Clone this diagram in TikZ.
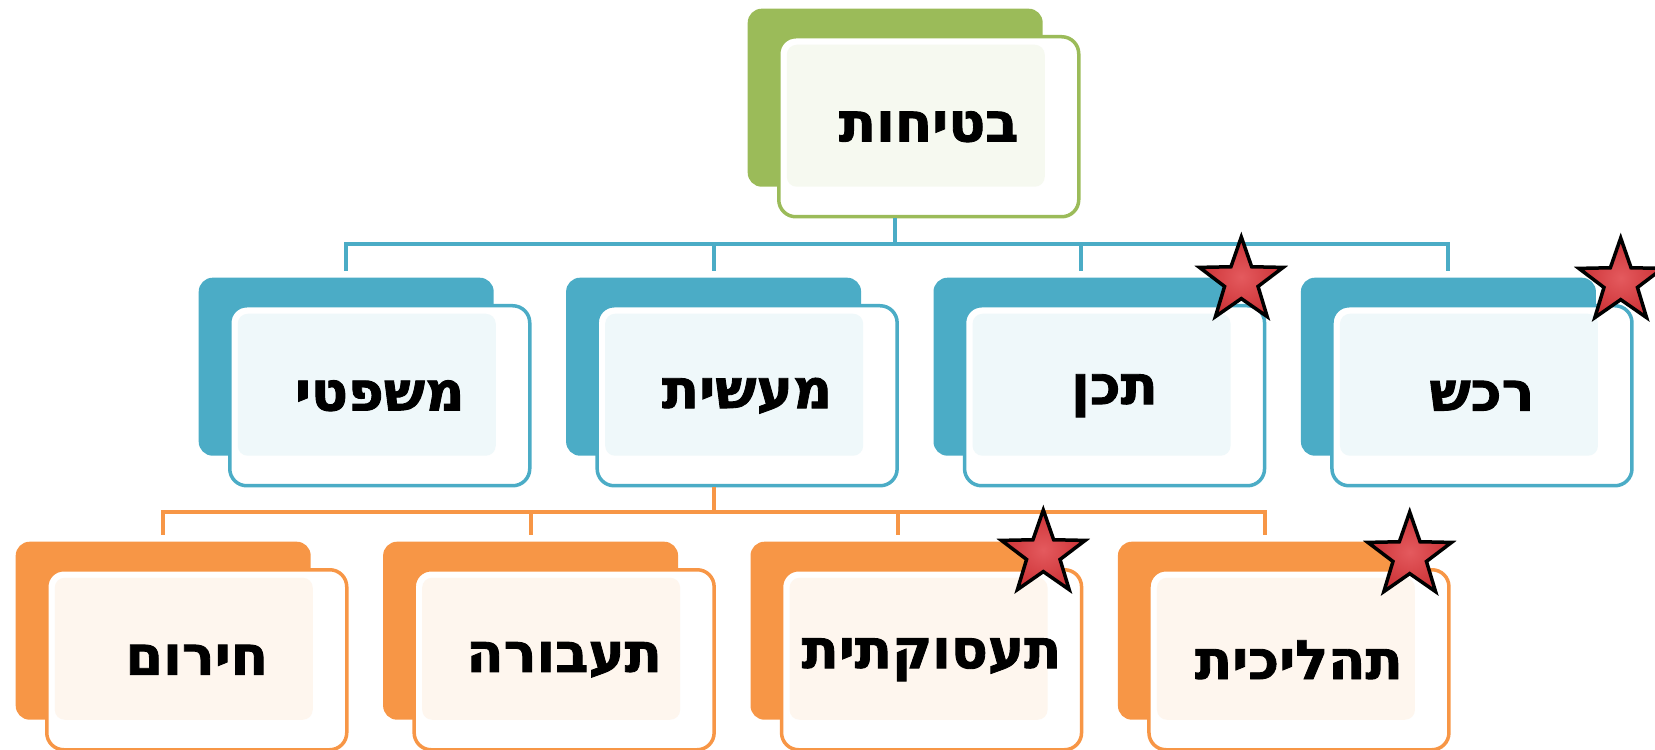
\documentclass[tikz,border=0pt]{standalone}
\usepackage{fontspec}
\newfontfamily\hebfont[Script=Hebrew, BoldFeatures={FakeBold=1.6}]{DejaVu Sans}
\TeXXeTstate=1
\usepackage{tikz}
\usetikzlibrary{shapes.geometric,positioning,calc}
\definecolor{topgreen}{HTML}{9BBB59}
\definecolor{midblue}{HTML}{4BACC6}
\definecolor{lowor}{HTML}{F79646}
\definecolor{starred}{HTML}{CC3236}
\definecolor{starlight}{HTML}{E45A5E}
\newcommand{\rtl}[1]{\beginR #1\endR}

\begin{document}
\begin{tikzpicture}[x=0.1mm, y=-0.1mm,
  back/.style={rectangle, rounded corners=1.4mm, minimum width=29.5mm,
    minimum height=17.8mm, inner sep=0pt, anchor=north west},
  front/.style={rectangle, rounded corners=1.7mm, minimum width=30mm,
    minimum height=18mm, line width=0.35mm, anchor=north west, fill=white,
    font=\hebfont\bfseries\fontsize{15.5}{17}\selectfont,
    path picture={\fill[#1!9, rounded corners=1mm]
      ([shift={(0.8mm,-0.8mm)}]path picture bounding box.north west) rectangle
      ([shift={(-3.4mm,3mm)}]path picture bounding box.south east);}},
  badge/.style={star, star points=5, star point ratio=2.5, minimum size=8.8mm,
    inner sep=0pt, inner color=starlight, outer color=starred, draw=black,
    line width=0.35mm},
  link/.style={line width=0.4mm},
  node distance=7.1mm
]
\useasboundingbox (0,0) rectangle (1655,750);

% root (top)
\node[back, fill=topgreen] (root_bk) at (747,8) {};
\node[front=topgreen, draw=topgreen] (root) at ($(root_bk.north west)+(30,27)$) {\rtl{בטיחות}};

% second level
\node[back, fill=midblue] (law_bk) at (198,277) {};
\node[back, fill=midblue, right=of law_bk] (act_bk) {};
\node[back, fill=midblue, right=of act_bk] (design_bk) {};
\node[back, fill=midblue, right=of design_bk] (buy_bk) {};

\node[front=midblue, draw=midblue] (law) at ($(law_bk.north west)+(30,27)$) {\rtl{משפטי}};
\node[front=midblue, draw=midblue] (act) at ($(act_bk.north west)+(30,27)$) {\rtl{מעשית}};
\node[front=midblue, draw=midblue] (design) at ($(design_bk.north west)+(30,27)$) {\rtl{תכן}};
\node[front=midblue, draw=midblue] (buy) at ($(buy_bk.north west)+(30,27)$) {\rtl{רכש}};

\coordinate (bus_top) at ($(root_bk.center |- root.south)+(0,26)$);
\draw[link, midblue] (root_bk.center |- root.south) -- (bus_top);
\draw[link, midblue, shorten >=0.6mm] (bus_top) -| (law_bk.north);
\draw[link, midblue, shorten >=0.6mm] (bus_top) -| (act_bk.north);
\draw[link, midblue, shorten >=0.6mm] (bus_top) -| (design_bk.north);
\draw[link, midblue, shorten >=0.6mm] (bus_top) -| (buy_bk.north);

% third level, under the practical branch
\node[back, fill=lowor] (alarm_bk) at (15,541) {};
\node[back, fill=lowor, right=of alarm_bk] (traffic_bk) {};
\node[back, fill=lowor, right=of traffic_bk] (occup_bk) {};
\node[back, fill=lowor, right=of occup_bk] (proc_bk) {};

\node[front=lowor, draw=lowor] (alarm) at ($(alarm_bk.north west)+(30,27)$) {\rtl{חירום}};
\node[front=lowor, draw=lowor] (traffic) at ($(traffic_bk.north west)+(30,27)$) {\rtl{תעבורה}};
\node[front=lowor, draw=lowor] (occup) at ($(occup_bk.north west)+(30,27)$) {\rtl{תעסוקתית}};
\node[front=lowor, draw=lowor] (proc) at ($(proc_bk.north west)+(30,27)$) {\rtl{תהליכית}};

\coordinate (bus_low) at ($(act_bk.center |- act.south)+(0,25)$);
\draw[link, lowor] (act_bk.center |- act.south) -- (bus_low);
\draw[link, lowor, shorten >=0.6mm] (bus_low) -| (alarm_bk.north);
\draw[link, lowor, shorten >=0.6mm] (bus_low) -| (traffic_bk.north);
\draw[link, lowor, shorten >=0.6mm] (bus_low) -| (occup_bk.north);
\draw[link, lowor, shorten >=0.6mm] (bus_low) -| (proc_bk.north);

% stars
\node[badge] (design_star) at ($(design.north east)+(-25,-23)$) {};
\node[badge] (buy_star) at ($(buy.north east)+(-13,-22)$) {};
\node[badge] (occup_star) at ($(occup.north east)+(-40,-14)$) {};
\node[badge] (proc_star) at ($(proc.north east)+(-41,-12)$) {};

\end{tikzpicture}
\end{document}
